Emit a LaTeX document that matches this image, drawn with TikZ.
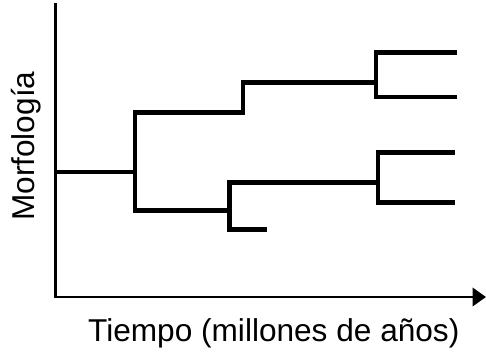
\documentclass[tikz,border=0pt]{standalone}
\usepackage{fontspec}
\setmainfont{Liberation Sans}
\usepackage{tikz}
\usetikzlibrary{arrows.meta}
\tikzstyle{axis} = [line width=2.5pt, line cap=rect]
\tikzstyle{branch} = [line width=4.6pt, line join=miter]
\tikzstyle{lbl} = [inner sep=0pt, font=\fontsize{31.6}{36}\selectfont]

\begin{document}
\begin{tikzpicture}[x=1pt,y=-1pt]
				\useasboundingbox (0,0) rectangle (486,352);
				% axes
				\coordinate (origin) at (55.7,297);
				\coordinate (ytop) at (55.7,4);
				\coordinate (xend) at (486,297);
				\draw[axis] (ytop) -- (origin);
				\draw[axis, line cap=butt, -{Triangle[length=13.5pt,width=18.5pt]}] (origin) -- (xend);
				\node[lbl, anchor=base west] (xlabel) at (88,341) {Tiempo (millones de años)};
				\node[lbl, anchor=base west, rotate=90] (ylabel) at (34.5,221) {Morfología};
				% tree
				\coordinate (root) at (55.7,172);
				\coordinate (sA) at (135,112.5);
				\coordinate (sB) at (135,210.5);
				\coordinate (kA) at (243,82.5);
				\coordinate (kB) at (229.7,182.5);
				\coordinate (kC) at (229.7,229.5);
				\coordinate (stub) at (266.7,229.5);
				\coordinate (tA) at (376,82.5);
				\coordinate (tB) at (378,182.5);
				\coordinate (e1) at (456.7,52.5);
				\coordinate (e2) at (456.7,97);
				\coordinate (e3) at (454.7,152.5);
				\coordinate (e4) at (454.7,202.5);
				\draw[branch] (root) -- (root -| sA);
				\draw[branch] (tA) -- (kA) |- (sA) -- (sB) -| (kC) -- (stub);
				\draw[branch] (tB) -- (kB) -- (kC);
				\draw[branch] (e1) -| (tA) |- (e2);
				\draw[branch] (e3) -| (tB) |- (e4);
			\end{tikzpicture}
\end{document}
